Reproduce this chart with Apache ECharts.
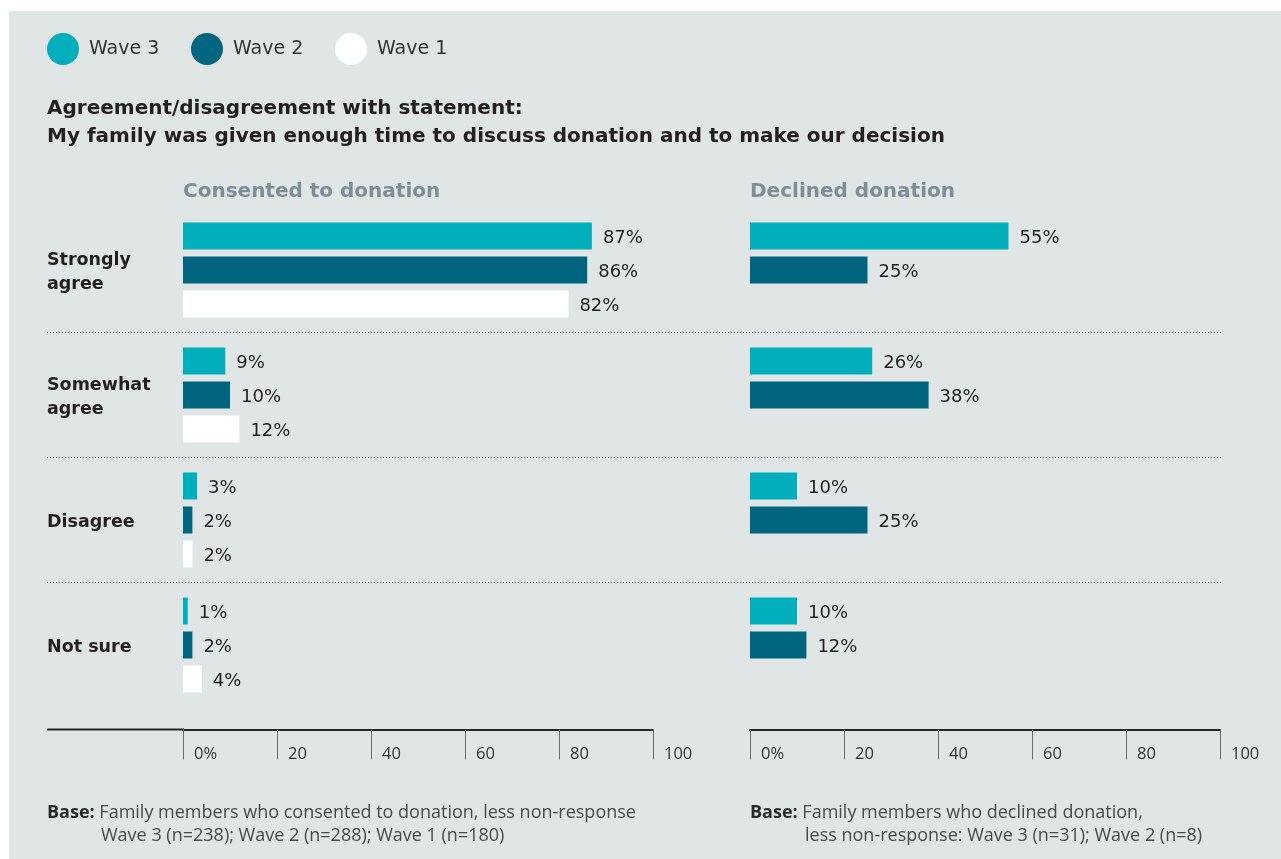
<!DOCTYPE html>
<html>
<head>
<meta charset="utf-8">
<script src="https://cdn.jsdelivr.net/npm/echarts@6/dist/echarts.min.js"></script>
<style>
  html, body { margin: 0; padding: 0; background: #ffffff; }
  #panel { position: absolute; left: 9px; top: 11px; width: 1272px; height: 848px; background: #e0e6e6; }
  #chart { position: absolute; left: 0; top: 0; width: 1281px; height: 859px; }
</style>
</head>
<body>
<div id="panel"></div>
<div id="chart"></div>
<script>
// Response categories (top to bottom)
const categories = ['Strongly\nagree', 'Somewhat\nagree', 'Disagree', 'Not sure'];

// Consented to donation (%)
const consentedWave3 = [87, 9, 3, 1];
const consentedWave2 = [86, 10, 2, 2];
const consentedWave1 = [82, 12, 2, 4];

// Declined donation (%) - no Wave 1 results for this group
const declinedWave3 = [55, 26, 10, 10];
const declinedWave2 = [25, 38, 25, 12];
const declinedWave1 = [null, null, null, null];

// Axis ticks
const tickValues = [0, 20, 40, 60, 80, 100];

const colors = { 'Wave 3': '#00afbb', 'Wave 2': '#00657f', 'Wave 1': '#ffffff' };

const FONT = '"DejaVu Sans", "Noto Sans", sans-serif';
const NOTE_FONT = '"Open Sans", "Noto Sans", sans-serif';
const TICK_FONT = '"Open Sans", "Noto Sans", sans-serif';
const INK = '#231f20';

const chart = echarts.init(document.getElementById('chart'), null, { renderer: 'canvas' });

const gridTop = 207.5, gridHeight = 500;

function valueAxis(gridIndex) {
  return {
    type: 'value', gridIndex, min: tickValues[0], max: tickValues[tickValues.length - 1],
    interval: tickValues[1] - tickValues[0],
    position: 'bottom', offset: 22,
    axisLine: { show: true, lineStyle: { color: '#262626', width: 2 } },
    axisTick: { show: true, length: 30, lineStyle: { color: '#6b6b6b', width: 1 } },
    splitLine: { show: false },
    axisLabel: {
      show: true, align: 'left', verticalAlign: 'top', margin: 16,
      padding: [0, 0, 0, 11], fontFamily: TICK_FONT, fontSize: 16.5, color: '#333',
      showMaxLabel: true, showMinLabel: true,
      formatter: v => v === 0 ? '0%' : String(v)
    }
  };
}

function categoryAxis(gridIndex, showLabels) {
  return {
    type: 'category', gridIndex, data: categories, inverse: true,
    axisLine: { show: false }, axisTick: { show: false }, splitLine: { show: false },
    axisLabel: {
      show: showLabels, align: 'left', margin: 136,
      // a thin spacer line nudges the row label block slightly downward
      formatter: v => '{s| }\n' + v.split('\n').map(t => '{a|' + t + '}').join('\n'),
      rich: {
        s: { fontSize: 4, lineHeight: 4 },
        a: { fontFamily: FONT, fontWeight: 'bold', fontSize: 17.5, lineHeight: 24, color: INK }
      }
    }
  };
}

function barSeries(name, data, xi, yi) {
  return {
    name, type: 'bar', data, xAxisIndex: xi, yAxisIndex: yi,
    barWidth: 27, barGap: '26%',
    itemStyle: { color: colors[name] },
    label: {
      show: true, position: 'right', distance: 11, offset: [0, 2],
      fontFamily: FONT, fontSize: 18, color: INK,
      formatter: p => p.value == null ? '' : p.value + '%'
    },
    emphasis: { disabled: true }
  };
}

function legendAt(name, left) {
  return {
    data: [name], left, top: 33, padding: 0,
    icon: 'circle', itemWidth: 32, itemHeight: 32,
    textStyle: { fontFamily: FONT, fontSize: 19, color: '#333', padding: [0, 0, 0, 5] },
    selectedMode: false
  };
}

const noteStyle = {
  fontFamily: NOTE_FONT, fontWeight: 'normal', fontSize: 18, color: '#4a4a4a',
  rich: { b: { fontFamily: NOTE_FONT, fontWeight: 'bold', fontSize: 18, color: '#2a2a2a' } }
};

const option = {
  backgroundColor: 'transparent',
  animation: false,
  title: [
    {
      text: 'Agreement/disagreement with statement:\nMy family was given enough time to discuss donation and to make our decision',
      left: 47, top: 95, padding: 0,
      textStyle: { fontFamily: FONT, fontWeight: 'bold', fontSize: 20, lineHeight: 28, color: INK }
    },
    {
      text: 'Consented to donation', left: 183, top: 182, padding: 0,
      textStyle: { fontFamily: FONT, fontWeight: 'bold', fontSize: 20, color: '#7a8f98' }
    },
    {
      text: 'Declined donation', left: 750, top: 182, padding: 0,
      textStyle: { fontFamily: FONT, fontWeight: 'bold', fontSize: 20, color: '#7a8f98' }
    },
    {
      text: '{b|Base:} Family members who consented to donation, less non-response',
      left: 47, top: 804, padding: 0, textStyle: noteStyle
    },
    {
      text: 'Wave 3 (n=238); Wave 2 (n=288); Wave 1 (n=180)',
      left: 101, top: 827, padding: 0, textStyle: noteStyle
    },
    {
      text: '{b|Base:} Family members who declined donation,',
      left: 750, top: 804, padding: 0, textStyle: noteStyle
    },
    {
      text: 'less non-response: Wave 3 (n=31); Wave 2 (n=8)',
      left: 805, top: 827, padding: 0, textStyle: noteStyle
    }
  ],
  legend: [legendAt('Wave 3', 47), legendAt('Wave 2', 191), legendAt('Wave 1', 335)],
  grid: [
    { left: 183, width: 470, top: gridTop, height: gridHeight, containLabel: false },
    { left: 750, width: 470, top: gridTop, height: gridHeight, containLabel: false },
    // full-width band used only for the dotted separators between response groups
    { left: 47, width: 1174, top: gridTop, height: gridHeight, containLabel: false }
  ],
  xAxis: [
    valueAxis(0),
    valueAxis(1),
    { type: 'value', gridIndex: 2, min: 0, max: 100, show: false }
  ],
  yAxis: [
    categoryAxis(0, true),
    categoryAxis(1, false),
    {
      type: 'category', gridIndex: 2, data: categories, inverse: true,
      axisLine: { show: false }, axisTick: { show: false }, axisLabel: { show: false },
      splitLine: { show: true, showMinLine: false, showMaxLine: false,
        lineStyle: { type: [1, 2], color: '#5f5f5f', width: 1 } }
    }
  ],
  graphic: [
    // left extension of the consented axis baseline under the row labels
    { type: 'line', shape: { x1: 47, y1: 729.5, x2: 184, y2: 729.5 },
      style: { stroke: '#262626', lineWidth: 2 }, silent: true }
  ],
  series: [
    barSeries('Wave 3', consentedWave3, 0, 0),
    barSeries('Wave 2', consentedWave2, 0, 0),
    barSeries('Wave 1', consentedWave1, 0, 0),
    barSeries('Wave 3', declinedWave3, 1, 1),
    barSeries('Wave 2', declinedWave2, 1, 1),
    barSeries('Wave 1', declinedWave1, 1, 1)
  ]
};

chart.setOption(option);
</script>
</body>
</html>
